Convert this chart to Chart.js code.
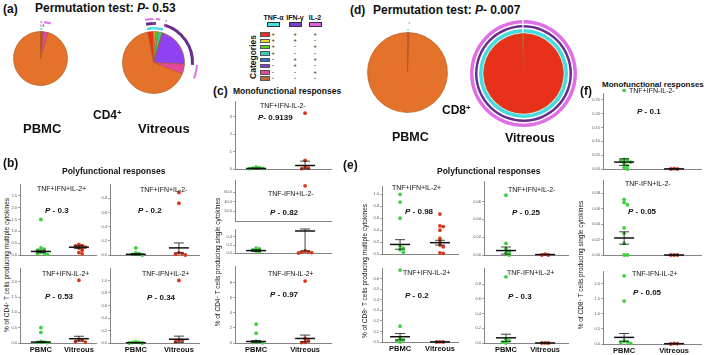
<!DOCTYPE html>
<html>
<head>
<meta charset="utf-8">
<script src="https://cdn.jsdelivr.net/npm/chart.js@4.4.1/dist/chart.umd.min.js"></script>
<style>
  body { margin: 0; background: #fff; }
  #fig { position: relative; width: 709px; height: 355px; overflow: hidden;
         font-family: "Liberation Sans", Arial, sans-serif; color: #111; }
  .t { position: absolute; white-space: nowrap; line-height: 1; }
  canvas { position: absolute; }
</style>
</head>
<body>
<div id="fig"></div>
<script>
// ---- data ----
const groups = ["PBMC", "Vitreous"];
const categories = ["TNF+IFN+IL-2+", "TNF+IFN+IL-2-", "TNF+IFN-IL-2+", "TNF+IFN-IL-2-",
                    "TNF-IFN+IL-2+", "TNF-IFN+IL-2-", "TNF-IFN-IL-2+", "TNF-IFN-IL-2-"];
const cytokines = ["TNF-α", "IFN-γ", "IL-2"];
const tnfSigns = ["+", "+", "+", "+", "-", "-", "-", "-"];
const ifnSigns = ["+", "+", "-", "-", "+", "+", "-", "-"];
const il2Signs = ["+", "-", "+", "-", "+", "-", "+", "-"];

// pie fractions (%), legend order
const cd4PbmcSlices = [0.2, 0.1, 0.3, 0.4, 0.1, 0.5, 3.0, 95.4];
const cd4VitSlices = [3.0, 1.0, 1.5, 2.0, 0.5, 21.0, 5.0, 66.0];
const cd8PbmcSlices = [0, 0, 0, 0.4, 0, 0, 0.3, 99.3];
const cd8VitSlices = [99.6, 0, 0, 0, 0, 0, 0, 0.4];

// (b) CD4 polyfunctional
const cd4PolyTitles = ["TNF+IFN+IL-2+", "TNF+IFN+IL-2-", "TNF+IFN-IL-2+", "TNF-IFN+IL-2+"];
const cd4PolyP = ["P - 0.3", "P - 0.2", "P - 0.53", "P - 0.34"];
const cd4PolyPbmc = [[1.5, 0.3, 0.25, 0.2, 0.12, 0.08, 0.05, 0.03], [0.1, 0.03, 0.02, 0.01, 0],
                     [0.5, 0.35, 0.05, 0.03, 0.02, 0.01], [0.02, 0.01, 0.01, 0, 0]];
const cd4PolyVit = [[0.45, 0.4, 0.38, 0.33, 0.3, 0.2, 0.1, 0.05], [0.88, 0.73, 0.03, 0.02, 0.01, 0],
                    [2.05, 0.12, 0.1, 0.05, 0.03], [1.0, 0.05, 0.04, 0.02]];
const cd4PolyMean = [[0.15, 0.33], [0.01, 0.1], [0.03, 0.14], [0.005, 0.06]];
const cd4PolySem = [[0.05, 0.06], [0.01, 0.07], [0.01, 0.08], [0.003, 0.05]];
const cd4PolyTicks = [[0, 0.5, 1, 1.5, 2, 2.5], [0, 0.2, 0.4, 0.6, 0.8], [0, 0.5, 1, 1.5, 2], [0, 0.2, 0.4, 0.6, 0.8, 1.0]];
const cd4PolyMax = [3.0, 1.0, 2.45, 1.2];

// (c) CD4 monofunctional
const cd4MonoTitles = ["TNF+IFN-IL-2-", "TNF-IFN+IL-2-", "TNF-IFN-IL-2+"];
const cd4MonoP = ["P- 0.9139", "P - 0.82", "P - 0.97"];
const cd4MonoPbmc = [[0.1, 0.07, 0.05, 0.03, 0.02], [0.12, 0.1, 0.08, 0.05, 0.03], [2.5, 1.3, 0.25, 0.12, 0.06, 0.03]];
const cd4MonoVit = [[3.2, 0.5, 0.12, 0.05, 0.02], [0.05, 0.03, 0.02, 0.01, 0], [8.2, 0.6, 0.3, 0.1, 0.05]];
const cd4MonoMean = [[0.03, 0.2], [0.06, 0.55], [0.2, 0.6]];
const cd4MonoSem = [[0.02, 0.25], [0.02, 0.5], [0.12, 0.45]];
const cd4MonoTicks = [[0, 1, 2, 3], [0, 0.2, 0.4], [0, 2, 4, 6, 8]];
const cd4MonoMax = [3.9, 0.6, 10.2];
const cd4MonoBreakVit = [73];
const cd4MonoBreakTicks = [20, 40, 60];
const cd4MonoBreakMax = 85;

// (e) CD8 polyfunctional
const cd8PolyTitles = ["TNF+IFN+IL-2+", "TNF+IFN+IL-2-", "TNF+IFN-IL-2+", "TNF-IFN+IL-2+"];
const cd8PolyP = ["P - 0.98", "P - 0.25", "P - 0.2", "P - 0.3"];
const cd8PolyPbmc = [[1.0, 0.87, 0.6, 0.14, 0.1, 0.07, 0.03], [0.067, 0.013, 0.007, 0.004, 0.002, 0],
                     [0.68, 0.15, 0.03, 0.02, 0.01, 0], [0.9, 0.05, 0.03, 0.01, 0]];
const cd8PolyVit = [[0.67, 0.47, 0.46, 0.4, 0.26, 0.2, 0.15, 0.12, 0.02, 0.01], [0.001, 0, 0],
                    [0.002, 0, 0], [0.001, 0, 0]];
const cd8PolyMean = [[0.16, 0.19], [0.005, 0.0005], [0.05, 0.001], [0.07, 0.0005]];
const cd8PolySem = [[0.08, 0.04], [0.004, 0], [0.03, 0], [0.05, 0]];
const cd8PolyTicks = [[0, 0.2, 0.4, 0.6, 0.8, 1.0], [0, 0.02, 0.04, 0.06], [0, 0.1, 0.2, 0.3, 0.4, 0.5, 0.6], [0, 0.2, 0.4, 0.6, 0.8]];
const cd8PolyMax = [1.14, 0.083, 0.70, 1.02];

// (f) CD8 monofunctional
const cd8MonoTitles = ["TNF+IFN-IL-2-", "TNF-IFN+IL-2-", "TNF-IFN-IL-2+"];
const cd8MonoP = ["P - 0.1", "P - 0.05", "P - 0.05"];
const cd8MonoPbmc = [[0.285, 0.035, 0.033, 0.03, 0.025, 0.02, 0.012, 0.005, 0],
                     [0.072, 0.068, 0.065, 0.035, 0.028, 0.015, 0, 0], [2.27, 1.43, 0.1, 0.07, 0.05, 0.02]];
const cd8MonoVit = [[0.001, 0, 0], [0, 0, 0], [0.02, 0.01, 0]];
const cd8MonoMean = [[0.025, 0.0005], [0.022, 0], [0.22, 0.01]];
const cd8MonoSem = [[0.012, 0], [0.008, 0], [0.13, 0]];
const cd8MonoTicks = [[0, 0.05, 0.1, 0.15, 0.2, 0.25], [0, 0.02, 0.04, 0.06, 0.08], [0, 0.5, 1, 1.5, 2]];
const cd8MonoMax = [0.275, 0.097, 2.43];

// ---- styles ----
const FONT = '"Liberation Sans", Arial, sans-serif';
const GREEN = "#3dd13d", RED = "#d6391f", AXIS = "#666";
const sliceColors = ["#e8311a", "#e4dc34", "#5ccf2e", "#39c8b0", "#2f6fd6", "#8f42f2", "#e6489e", "#e5722a"];
const legendColors = ["#e8311a", "#e4dc34", "#5ccf2e", "#39c8b0", "#2f6fd6", "#7d3fd6", "#e6489e", "#b86f3c"];
const ringColors = { tnf: "#46dbe0", ifn: "#6b2d8c", il2: "#e06ee6" };
const headColors = ["#45dede", "#7a3ed6", "#e35fe3"];
const signs = { tnf: tnfSigns, ifn: ifnSigns, il2: il2Signs };

Chart.defaults.font.family = FONT;
const fig = document.getElementById("fig");

function addCanvas(left, top, w, h) {
  const c = document.createElement("canvas");
  c.width = w; c.height = h;
  c.style.left = left + "px"; c.style.top = top + "px";
  c.style.width = w + "px"; c.style.height = h + "px";
  fig.appendChild(c);
  return c;
}

function txt(html, x, y, size, o = {}) {
  const d = document.createElement("div");
  d.className = "t";
  d.innerHTML = html;
  d.style.left = x + "px";
  d.style.top = (y - size / 2) + "px";
  d.style.fontSize = size + "px";
  if (o.bold) d.style.fontWeight = "bold";
  if (o.color) d.style.color = o.color;
  if (o.center) d.style.transform = "translateX(-50%)";
  if (o.rot) { d.style.top = y + "px"; d.style.transform = "translate(-50%,-50%) rotate(-90deg)"; }
  fig.appendChild(d);
  return d;
}
const sup = s => '<span style="font-size:0.65em;vertical-align:0.55em">' + s + "</span>";
const pText = s => "<i>" + s[0] + "</i>" + s.slice(1);

// mean line + SEM bars, drawn through the chart scales
const meanSem = {
  id: "meanSem",
  afterDatasetsDraw(chart, args, opts) {
    if (!opts.means) return;
    const { ctx, scales: { x, y } } = chart;
    ctx.save();
    ctx.strokeStyle = "#111";
    opts.means.forEach((m, i) => {
      const e = opts.sems[i];
      const cx = x.getPixelForValue(i + 1);
      const ym = y.getPixelForValue(m);
      const yLo = y.getPixelForValue(Math.max(m - e, y.min));
      const yHi = y.getPixelForValue(Math.min(m + e, y.max));
      ctx.lineWidth = 0.8;
      ctx.beginPath();
      ctx.moveTo(cx, yLo); ctx.lineTo(cx, yHi);
      ctx.moveTo(cx - 5, yHi); ctx.lineTo(cx + 5, yHi);
      ctx.moveTo(cx - 5, yLo); ctx.lineTo(cx + 5, yLo);
      ctx.stroke();
      ctx.lineWidth = 1.5;
      ctx.beginPath();
      ctx.moveTo(cx - 10, ym); ctx.lineTo(cx + 10, ym);
      ctx.stroke();
    });
    ctx.restore();
  }
};

// spread overlapping dots sideways so they stay visible
function swarm(vals, x0, yPerPx, xPerPx) {
  const placed = [];
  const seq = [0, 1, -1, 2, -2, 3, -3, 4, -4];
  return vals.map(v => {
    const near = placed.filter(p => Math.abs(p.y - v) < 3.2 * yPerPx);
    const s = seq.find(k => near.every(p => p.s !== k));
    placed.push({ y: v, s });
    return { x: x0 + s * 3.4 * xPerPx, y: v };
  });
}

function dotPlot(L, pbmc, vit, means, sems, ticks, ymax, dec, showX) {
  const yw = 13, xh = showX ? 13 : 0, pad = 3;
  const left = L.ax - yw, top = L.top - pad;
  const w = L.right - left, h = L.bottom - top + xh;
  const per = L.vx - L.px;
  const xmin = 1 - (L.px - L.ax) / per;
  const xmax = xmin + (L.right - L.ax) / per;
  const yPerPx = ymax / (L.bottom - L.top);
  const cv = addCanvas(left, top, w, h);
  new Chart(cv, {
    type: "scatter",
    data: {
      datasets: [
        { data: swarm(pbmc, 1, yPerPx, 1 / per), backgroundColor: GREEN, pointRadius: 1.9, borderWidth: 0, clip: false },
        { data: swarm(vit, 2, yPerPx, 1 / per), backgroundColor: RED, pointRadius: 1.9, borderWidth: 0, clip: false }
      ]
    },
    options: {
      responsive: false, animation: false, events: [],
      layout: { padding: { top: pad, left: 0, right: 0, bottom: 0 } },
      plugins: { legend: { display: false }, tooltip: { enabled: false }, meanSem: { means, sems } },
      scales: {
        x: {
          type: "linear", min: xmin, max: xmax,
          afterFit: s => { s.height = xh; },
          afterBuildTicks: s => { s.ticks = [{ value: 1 }, { value: 2 }]; },
          grid: { drawOnChartArea: false, drawTicks: false },
          border: { color: AXIS, width: 0.8 },
          ticks: { display: showX, padding: 2, color: "#111", maxRotation: 0, autoSkip: false,
                   font: { size: 7.5, weight: "bold" }, callback: v => groups[v - 1] }
        },
        y: {
          min: 0, max: ymax,
          afterFit: s => { s.width = yw; },
          afterBuildTicks: s => { s.ticks = ticks.map(v => ({ value: v })); },
          grid: { drawOnChartArea: false, tickLength: 2, color: AXIS, lineWidth: 0.6 },
          border: { color: AXIS, width: 0.8 },
          ticks: { padding: 1, color: "#555", font: { size: 4 }, callback: v => v.toFixed(dec) }
        }
      }
    },
    plugins: [meanSem]
  });
}

function pieChart(slices, cx, cy, r, rings, rotation) {
  const datasets = [];
  let R = r;
  rings.forEach(([key, w]) => {
    R += w;
    if (key === "gap") {
      datasets.push({ data: [1], backgroundColor: ["rgba(0,0,0,0)"], borderWidth: 0, weight: w });
    } else {
      datasets.push({
        data: slices, borderWidth: 0, weight: w,
        backgroundColor: slices.map((v, i) => signs[key][i] === "+" ? ringColors[key] : "rgba(0,0,0,0)")
      });
    }
  });
  datasets.push({ data: slices, backgroundColor: sliceColors, borderColor: "#a8561f", borderWidth: 0.6, weight: r });
  const size = Math.ceil(2 * R + 4);
  const cv = addCanvas(cx - size / 2, cy - size / 2, size, size);
  new Chart(cv, {
    type: "pie",
    data: { labels: categories, datasets },
    options: {
      responsive: false, animation: false, events: [],
      radius: R, cutout: 0, rotation: rotation || 0,
      layout: { padding: 0 },
      plugins: { legend: { display: false }, tooltip: { enabled: false } }
    }
  });
}

// ---- (a) CD4 pies ----
txt("(a)", 3, 9, 12, { bold: true });
txt("Permutation test: " + pText("P- 0.53"), 35, 8, 12, { bold: true });
const smallRings = [["il2", 2], ["gap", 1.5], ["ifn", 2], ["gap", 1.5], ["tnf", 2], ["gap", 1.5]];
pieChart(cd4PbmcSlices, 40, 58, 27, smallRings, 0);
pieChart(cd4VitSlices, 153, 62, 31, [["il2", 2], ["gap", 2], ["ifn", 3], ["gap", 2], ["tnf", 2.5], ["gap", 2]], -11);
txt("CD4" + sup("+"), 93, 115, 12, { bold: true });
txt("PBMC", 23, 128, 13, { bold: true });
txt("Vitreous", 138, 128, 13, { bold: true });

// ---- legend ----
const headX = [273.5, 295, 315];
cytokines.forEach((c, i) => {
  txt(c, headX[i], 17, 7, { bold: true, center: true });
  const b = document.createElement("div");
  b.style.cssText = `position:absolute;left:${headX[i] - 6.5}px;top:22px;width:13px;height:5px;background:${headColors[i]};border:0.5px solid #333;box-sizing:border-box`;
  fig.appendChild(b);
});
txt("Categories", 253, 57, 8.5, { bold: true, rot: true });
categories.forEach((c, i) => {
  const yc = 34.5 + i * 6.3;
  const b = document.createElement("div");
  b.style.cssText = `position:absolute;left:260px;top:${yc - 2.2}px;width:10px;height:4.5px;background:${legendColors[i]};border:0.5px solid #555;box-sizing:border-box`;
  fig.appendChild(b);
  [tnfSigns, ifnSigns, il2Signs].forEach((s, k) => {
    txt(s[i] === "+" ? "+" : "-", [273, 295, 315][k], yc, 5.5, { bold: true, center: true, color: "#333" });
  });
});

// ---- (d) CD8 pies ----
txt("(d)", 350, 10, 12, { bold: true });
txt("Permutation test: " + pText("P- 0.007"), 373, 10, 12, { bold: true });
pieChart(cd8PbmcSlices, 407, 72, 40, [["il2", 2], ["gap", 1.5], ["ifn", 2], ["gap", 1.5], ["tnf", 2], ["gap", 1.5]], 0);
pieChart(cd8VitSlices, 523, 73, 40, [["il2", 3.5], ["gap", 1.5], ["ifn", 2.5], ["gap", 1.5], ["tnf", 3.5], ["gap", 1]], 0);
txt("CD8" + sup("+"), 442, 110, 12, { bold: true });
txt("PBMC", 392, 137, 12.5, { bold: true });
txt("Vitreous", 505, 138, 12.5, { bold: true });

// ---- (b) ----
txt("(b)", 3, 163, 12, { bold: true });
txt("Polyfunctional responses", 62, 171, 8.5, { bold: true });
txt("% of CD4" + sup("+") + " T cells producing multiple cytokines", 7, 265, 6.5, { rot: true });
const bLayout = [
  { ax: 20, top: 183, bottom: 259, right: 100, px: 42, vx: 82, tx: 37, ty: 188, pxT: 45, py: 211 },
  { ax: 110, top: 183, bottom: 259, right: 203, px: 137, vx: 182, tx: 140, ty: 189, pxT: 138, py: 211 },
  { ax: 20, top: 267, bottom: 343, right: 100, px: 42, vx: 82, tx: 42, ty: 273, pxT: 45, py: 297 },
  { ax: 110, top: 267, bottom: 343, right: 203, px: 137, vx: 182, tx: 142, ty: 273, pxT: 147, py: 298 }
];
bLayout.forEach((L, i) => {
  dotPlot(L, cd4PolyPbmc[i], cd4PolyVit[i], cd4PolyMean[i], cd4PolySem[i], cd4PolyTicks[i], cd4PolyMax[i], 1, i >= 2);
  txt(cd4PolyTitles[i], L.tx, L.ty, 7);
  txt(pText(cd4PolyP[i]), L.pxT, L.py, 8, { bold: true });
});

// ---- (c) ----
txt("(c)", 213, 91, 12, { bold: true });
txt("Monofunctional responses", 233, 91, 8.5, { bold: true });
txt("% of CD4" + sup("+") + " T cells producing single cytokines", 218, 262, 6.5, { rot: true });
const cLayout = [
  { ax: 235, top: 100, bottom: 173, right: 335, px: 257, vx: 308, tx: 260, ty: 105, pxT: 258, py: 118 },
  { ax: 235, top: 228, bottom: 257, right: 335, px: 257, vx: 308, tx: 268, ty: 193, pxT: 270, py: 213 },
  { ax: 235, top: 265, bottom: 343, right: 335, px: 257, vx: 308, tx: 268, ty: 273, pxT: 270, py: 295 }
];
const cBreak = { ax: 235, top: 179, bottom: 225, right: 335, px: 257, vx: 308 };
dotPlot(cBreak, [], cd4MonoBreakVit, null, null, cd4MonoBreakTicks, cd4MonoBreakMax, 1, false);
cLayout.forEach((L, i) => {
  dotPlot(L, cd4MonoPbmc[i], cd4MonoVit[i], cd4MonoMean[i], cd4MonoSem[i], cd4MonoTicks[i], cd4MonoMax[i], i === 1 ? 1 : 0, i === 2);
  txt(cd4MonoTitles[i], L.tx, L.ty, 7);
  txt(pText(cd4MonoP[i]), L.pxT, L.py, 8, { bold: true });
});

// ---- (e) ----
txt("(e)", 343, 165, 12, { bold: true });
txt("Polyfunctional responses", 437, 171, 8.5, { bold: true });
txt("% of CD8" + sup("+") + " T cells producing multiple cytokines", 365, 271, 6.5, { rot: true });
const eLayout = [
  { ax: 382, top: 185, bottom: 258, right: 462, px: 401, vx: 443, tx: 392, ty: 187, pxT: 405, py: 212 },
  { ax: 484, top: 180, bottom: 259, right: 572, px: 507, vx: 548, tx: 508, ty: 189, pxT: 512, py: 213 },
  { ax: 382, top: 267, bottom: 342, right: 462, px: 401, vx: 443, tx: 403, ty: 272, pxT: 405, py: 296 },
  { ax: 484, top: 267, bottom: 343, right: 572, px: 507, vx: 548, tx: 507, ty: 272, pxT: 508, py: 297 }
];
const eDec = [1, 2, 1, 1];
eLayout.forEach((L, i) => {
  dotPlot(L, cd8PolyPbmc[i], cd8PolyVit[i], cd8PolyMean[i], cd8PolySem[i], cd8PolyTicks[i], cd8PolyMax[i], eDec[i], i >= 2);
  txt(cd8PolyTitles[i], L.tx, L.ty, 7);
  txt(pText(cd8PolyP[i]), L.pxT, L.py, 8, { bold: true });
});

// ---- (f) ----
txt("(f)", 580, 91, 12, { bold: true });
txt("Monofunctional responses", 602, 85, 8, { bold: true });
txt("% of CD8" + sup("+") + " T cells producing single cytokines", 581, 265, 6.5, { rot: true });
const fLayout = [
  { ax: 603, top: 92, bottom: 173, right: 705, px: 625, vx: 677, tx: 629, ty: 90, pxT: 637, py: 112 },
  { ax: 603, top: 179, bottom: 259, right: 705, px: 625, vx: 677, tx: 625, ty: 183, pxT: 628, py: 212 },
  { ax: 603, top: 270, bottom: 344, right: 705, px: 625, vx: 677, tx: 632, ty: 273, pxT: 633, py: 293 }
];
const fDec = [2, 2, 1];
fLayout.forEach((L, i) => {
  dotPlot(L, cd8MonoPbmc[i], cd8MonoVit[i], cd8MonoMean[i], cd8MonoSem[i], cd8MonoTicks[i], cd8MonoMax[i], fDec[i], i === 2);
  txt(cd8MonoTitles[i], L.tx, L.ty, 7);
  txt(pText(cd8MonoP[i]), L.pxT, L.py, 8, { bold: true });
});
</script>
</body>
</html>
